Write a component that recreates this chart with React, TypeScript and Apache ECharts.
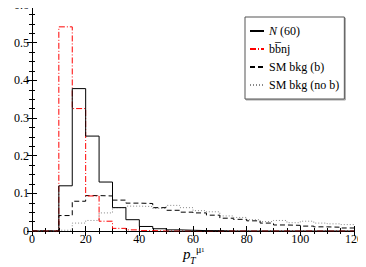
import React, { useEffect, useRef } from "react";
import * as echarts from "echarts";

const binWidth = 5;
const seriesNames = ["N (60)", "bb\u0305nj", "SM bkg (b)", "SM bkg (no b)"];
const signalN60 = [0, 0, 0.12, 0.378, 0.252, 0.13, 0.062, 0.03, 0.012, 0.006, 0.003, 0.002, 0.001, 0.001, 0, 0, 0, 0, 0, 0, 0, 0, 0, 0];
const bbnj = [0, 0, 0.542, 0.325, 0.093, 0.026, 0.007, 0.003, 0.001, 0, 0, 0, 0, 0, 0, 0, 0, 0, 0, 0, 0, 0, 0, 0];
const smBkgB = [0, 0, 0.041, 0.079, 0.094, 0.093, 0.082, 0.074, 0.073, 0.062, 0.055, 0.05, 0.048, 0.042, 0.034, 0.031, 0.027, 0.021, 0.016, 0.015, 0.013, 0.011, 0.01, 0.008];
const smBkgNoB = [0, 0, 0.002, 0.021, 0.028, 0.048, 0.062, 0.066, 0.065, 0.06, 0.068, 0.062, 0.054, 0.051, 0.04, 0.036, 0.03, 0.025, 0.028, 0.022, 0.026, 0.021, 0.019, 0.017];
const xTicks = [0, 20, 40, 60, 80, 100, 120];
const yTicks = [0, 0.1, 0.2, 0.3, 0.4, 0.5, 0.6];

const FONT = "'Liberation Serif', 'Times New Roman', 'DejaVu Serif', serif";

function toSteps(vals: number[]) {
  const pts = vals.map((v, i) => [i * binWidth, v]);
  pts.push([vals.length * binWidth, vals[vals.length - 1]]);
  return pts;
}

export default function App() {
  const ref = useRef<HTMLDivElement>(null);
  useEffect(() => {
    if (!ref.current) return;
    const chart = echarts.init(ref.current, null, { renderer: "svg" });
    const axisCommon = {
      type: "value" as const,
      axisLine: { show: true, lineStyle: { color: "#000", width: 1 } },
      axisTick: { show: true, inside: true, length: 5, lineStyle: { color: "#000" } },
      minorTick: { show: true, splitNumber: 4, length: 3, lineStyle: { color: "#000" } },
      splitLine: { show: false },
    };
    const xMin = xTicks[0], xMax = xTicks[xTicks.length - 1];
    const yMin = yTicks[0], yMax = yTicks[yTicks.length - 1];
    const mk = (name: string, data: number[], color: string, type: any, width = 1) => ({
      name,
      type: "line",
      step: "end",
      data: toSteps(data),
      symbol: "none",
      showSymbol: false,
      lineStyle: { color, width, type },
      itemStyle: { color },
    });
    chart.setOption({
      animation: false,
      grid: { left: 32, right: 12, top: 5, bottom: 36, outerBoundsMode: "none", containLabel: false },
      xAxis: [
        {
          ...axisCommon,
          position: "bottom",
          min: xMin,
          max: xMax,
          interval: 20,
          axisLabel: { color: "#000", fontFamily: FONT, fontSize: 12, lineHeight: 10, margin: 3, verticalAlign: "top", align: "center" },
        },
        {
          ...axisCommon,
          position: "top",
          min: xMin,
          max: xMax,
          interval: 20,
          axisLabel: { show: false },
        },
      ],
      yAxis: [
        {
          ...axisCommon,
          position: "left",
          min: yMin,
          max: yMax,
          interval: 0.1,
          name: "Fraction of events / 5 GeV",
          nameLocation: "middle",
          nameGap: 22,
          nameTextStyle: { color: "#000", fontFamily: FONT, fontSize: 13, lineHeight: 13 },
          axisLabel: {
            color: "#000",
            fontFamily: FONT,
            fontSize: 12,
            margin: 3,
            align: "right",
            verticalAlign: "middle",
            formatter: (v: number) => (v === 0 ? "0" : v.toFixed(1)),
          },
        },
        {
          ...axisCommon,
          position: "right",
          min: yMin,
          max: yMax,
          interval: 0.1,
          axisLabel: { show: false },
        },
      ],
      legend: {
        orient: "vertical",
        left: 245,
        top: 17,
        borderColor: "#555",
        borderWidth: 1,
        padding: [8, 5, 8, 4],
        itemGap: 6,
        itemWidth: 14,
        itemHeight: 12,
        backgroundColor: "#fff",
        shadowColor: "rgba(0,0,0,0.35)",
        shadowOffsetX: 1,
        shadowOffsetY: 1,
        shadowBlur: 1,
        data: seriesNames,
        itemStyle: { opacity: 0 },
        textStyle: {
          color: "#000",
          fontFamily: FONT,
          fontSize: 12,
          rich: { i: { fontStyle: "italic", fontFamily: FONT, fontSize: 12 } },
        },
        formatter: (n: string) => (n === seriesNames[0] ? "{i|N} (60)" : n),
      },
      graphic: [
        { type: "text", left: 183, top: 246, style: { text: "p", fontFamily: FONT, fontSize: 15, fontStyle: "italic", fill: "#000" } },
        { type: "text", left: 190, top: 255, style: { text: "T", fontFamily: FONT, fontSize: 10, fontStyle: "italic", fill: "#000" } },
        { type: "text", left: 196, top: 244, style: { text: "\u03bc", fontFamily: FONT, fontSize: 10, lineHeight: 8, fill: "#000" } },
        { type: "text", left: 201, top: 246, style: { text: "1", fontFamily: FONT, fontSize: 7, fill: "#000" } },
      ],
      series: [
        mk(seriesNames[3], smBkgNoB, "#888", [1, 2]),
        mk(seriesNames[2], smBkgB, "#000", [5, 3]),
        mk(seriesNames[1], bbnj, "#ff0000", [6, 2, 1, 2]),
        mk(seriesNames[0], signalN60, "#000", "solid"),
      ],
    });
    return () => chart.dispose();
  }, []);
  return <div ref={ref} style={{ width: 366, height: 267, marginLeft: -8, marginTop: -8 }} />;
}
